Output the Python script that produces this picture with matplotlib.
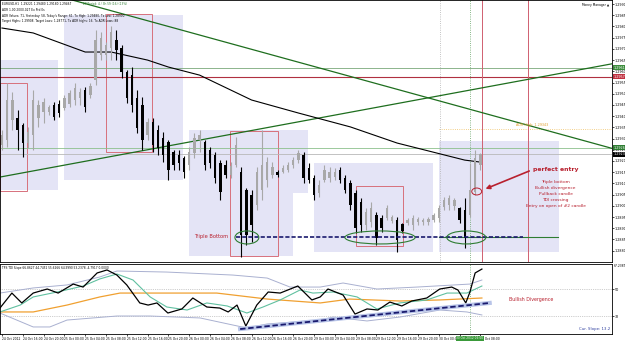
import matplotlib
matplotlib.use("Agg")
import matplotlib.pyplot as plt
import matplotlib.transforms as mtrans
from matplotlib.patches import Rectangle, Ellipse
import numpy as np

# EURUSD H1 bars (bar index 0 = 24 Oct 12:00)
opens = [1.29271, 1.29294, 1.29383, 1.29392, 1.29360, 1.29280, 1.29316, 1.29392, 1.29418, 1.29418,
         1.29450, 1.29454, 1.29436, 1.29454, 1.29472, 1.29481, 1.29517, 1.29494, 1.29561, 1.29673,
         1.29673, 1.29704, 1.29740, 1.29704, 1.29597, 1.29583, 1.29481, 1.29450, 1.29316, 1.29374,
         1.29338, 1.29303, 1.29285, 1.29240, 1.29227, 1.29213, 1.29182, 1.29236, 1.29294, 1.29285,
         1.29249, 1.29227, 1.29191, 1.29182, 1.29137, 1.29182, 1.29151, 1.29071, 1.29048, 1.29004,
         1.29071, 1.29115, 1.29137, 1.29151, 1.29151, 1.29160, 1.29182, 1.29204, 1.29227, 1.29169,
         1.29124, 1.29057, 1.29115, 1.29124, 1.29129, 1.29160, 1.29124, 1.29102, 1.29057, 1.29017,
         1.28914, 1.28928, 1.28959, 1.28946, 1.28946, 1.28932, 1.28937, 1.28919, 1.28923, 1.28914,
         1.28928, 1.28928, 1.28928, 1.28937, 1.28946, 1.28995, 1.29004, 1.28999, 1.28990, 1.28981,
         1.28959, 1.29062, 1.29182]
highs = [1.29338, 1.29548, 1.29508, 1.29427, 1.29369, 1.29352, 1.29517, 1.29472, 1.29481, 1.29450,
         1.29463, 1.29472, 1.29494, 1.29517, 1.29548, 1.29526, 1.29530, 1.29548, 1.29784, 1.29775,
         1.29731, 1.29802, 1.29784, 1.29717, 1.29606, 1.29619, 1.29517, 1.29485, 1.29392, 1.29392,
         1.29360, 1.29329, 1.29294, 1.29249, 1.29249, 1.29222, 1.29262, 1.29325, 1.29338, 1.29294,
         1.29262, 1.29240, 1.29204, 1.29204, 1.29195, 1.29307, 1.29173, 1.29080, 1.29071, 1.29173,
         1.29338, 1.29218, 1.29195, 1.29160, 1.29182, 1.29195, 1.29218, 1.29249, 1.29240, 1.29191,
         1.29137, 1.29115, 1.29182, 1.29173, 1.29169, 1.29173, 1.29137, 1.29115, 1.29071, 1.29035,
         1.28990, 1.29017, 1.28972, 1.28959, 1.29004, 1.28959, 1.28950, 1.28923, 1.28946, 1.28959,
         1.28950, 1.28946, 1.28950, 1.28968, 1.29004, 1.29039, 1.29048, 1.29035, 1.28995, 1.29035,
         1.29191, 1.29249, 1.29236]
lows = [1.29249, 1.29262, 1.29338, 1.29249, 1.29218, 1.29258, 1.29249, 1.29352, 1.29369, 1.29405,
        1.29383, 1.29396, 1.29427, 1.29441, 1.29450, 1.29450, 1.29418, 1.29481, 1.29539, 1.29650,
        1.29650, 1.29650, 1.29650, 1.29570, 1.29459, 1.29418, 1.29325, 1.29249, 1.29294, 1.29240,
        1.29227, 1.29195, 1.29115, 1.29160, 1.29160, 1.29124, 1.29160, 1.29213, 1.29240, 1.29160,
        1.29169, 1.29102, 1.29026, 1.29124, 1.29124, 1.29173, 1.28772, 1.28825, 1.28839, 1.28981,
        1.29026, 1.29084, 1.29124, 1.29129, 1.29146, 1.29151, 1.29169, 1.29191, 1.29102, 1.29102,
        1.29026, 1.29039, 1.29106, 1.29106, 1.29115, 1.29102, 1.29057, 1.28981, 1.28879, 1.28883,
        1.28892, 1.28906, 1.28825, 1.28883, 1.28937, 1.28923, 1.28794, 1.28879, 1.28914, 1.28892,
        1.28914, 1.28914, 1.28914, 1.28928, 1.28928, 1.28981, 1.28981, 1.28981, 1.28923, 1.28812,
        1.28950, 1.29048, 1.29160]
closes = [1.29316, 1.29472, 1.29472, 1.29338, 1.29280, 1.29329, 1.29472, 1.29450, 1.29463, 1.29441,
          1.29396, 1.29414, 1.29481, 1.29503, 1.29526, 1.29508, 1.29441, 1.29534, 1.29740, 1.29749,
          1.29717, 1.29775, 1.29695, 1.29597, 1.29481, 1.29450, 1.29347, 1.29294, 1.29374, 1.29271,
          1.29258, 1.29227, 1.29160, 1.29182, 1.29191, 1.29151, 1.29240, 1.29303, 1.29316, 1.29182,
          1.29191, 1.29124, 1.29062, 1.29137, 1.29178, 1.29271, 1.28870, 1.28870, 1.28914, 1.29151,
          1.29182, 1.29195, 1.29173, 1.29137, 1.29169, 1.29182, 1.29204, 1.29236, 1.29124, 1.29115,
          1.29048, 1.29093, 1.29160, 1.29151, 1.29151, 1.29115, 1.29071, 1.29004, 1.28901, 1.28914,
          1.28972, 1.28990, 1.28857, 1.28901, 1.28990, 1.28950, 1.28848, 1.28888, 1.28937, 1.28946,
          1.28941, 1.28937, 1.28941, 1.28959, 1.28990, 1.29026, 1.29035, 1.29026, 1.28937, 1.28857,
          1.29071, 1.29213, 1.29231]

# moving average (sampled points)
ma_x = [0, 6, 16, 21, 28, 32, 38, 48, 57, 67, 76, 89, 92]
ma_y = [1.29793, 1.29771, 1.29686, 1.29686, 1.29650, 1.29619, 1.29583, 1.29472, 1.29414,
        1.29352, 1.29280, 1.29204, 1.29195]

# TDI lines (sampled points)
rsi_x = [-0.4, 1.9, 3.8, 6, 8.7, 10.8, 13.7, 15.6, 18.3, 20.2, 22.1, 24, 26.5, 28.1, 29.8, 31.9,
         34.6, 36.7, 39.4, 41.9, 43.5, 45.2, 46.9, 49, 51.2, 53.5, 56.9, 59.6, 61.2, 62.7, 65.6,
         67.9, 70.2, 72.3, 74.6, 76.9, 78.8, 81.7, 84.2, 86.5, 87.7, 89.2, 90, 91, 92.3]
rsi_y = [37.3, 47.3, 40.7, 47.3, 50, 47.3, 53.3, 51.3, 60.7, 62.7, 59.3, 52.7, 40.7, 39.3, 40.7, 34,
         36.7, 44, 38, 37.3, 34.7, 39.3, 25.3, 39.3, 48, 47.3, 52, 42.7, 44.7, 50, 46,
         33.3, 36.7, 36, 41.3, 38.7, 42, 44, 50, 51.3, 49.3, 40.7, 48, 60.7, 63.3]
sig_x = [-0.4, 3.5, 6, 10.6, 15.6, 18.8, 22.1, 25.2, 28.5, 31.7, 35.6, 39.4, 43.3, 47.1, 50.2,
         53.5, 57.3, 59.8, 63.7, 68.3, 72.1, 76.5, 81.7, 85.6, 89.4, 92.3]
sig_y = [34.7, 39.3, 44.7, 48, 52, 56.7, 60, 56, 44.7, 38, 36, 40.7, 38.7, 34, 38,
         42.7, 49.3, 47.3, 48, 44.7, 36.7, 40.7, 42.7, 47.3, 47.3, 52]
base_x = [-0.4, 6, 12.5, 18.8, 22.7, 31.7, 41.3, 51, 61.2, 66.9, 76.5, 84.2, 92.3]
base_y = [34.7, 34.7, 39.3, 44.7, 47.3, 47.3, 47.3, 43.3, 40.7, 43.3, 42, 42.7, 44]
up_x = [-0.4, 6, 12.5, 18.8, 22.1, 31.7, 44.4, 51, 55.4, 61.2, 65.6, 72.1, 79.8, 90, 92.3]
up_y = [47.3, 50.7, 52.7, 58, 62, 61.3, 59.3, 57.3, 51.3, 51.3, 54, 50, 51.3, 53.3, 56]
lo_x = [-0.4, 6, 9.2, 12.5, 22.1, 28.5, 38.1, 44.4, 47.1, 51, 61.2, 63.7, 70.2, 76.5, 84.2, 89.4, 92.3]
lo_y = [34, 24.7, 24.7, 29.3, 32, 32, 30.7, 26, 24, 26.7, 29.3, 31.3, 28.7, 31.3, 36, 34.7, 32.7]

tick_idx = list(range(0, 93, 4))
tick_lbl = ["24 Oct 2012", "24 Oct 16:00", "24 Oct 20:00", "25 Oct 00:00", "25 Oct 04:00",
            "25 Oct 08:00", "25 Oct 12:00", "25 Oct 16:00", "25 Oct 20:00", "26 Oct 00:00",
            "26 Oct 04:00", "26 Oct 08:00", "26 Oct 12:00", "26 Oct 16:00", "26 Oct 20:00",
            "29 Oct 00:00", "29 Oct 04:00", "29 Oct 08:00", "29 Oct 12:00", "29 Oct 16:00",
            "29 Oct 20:00", "30 Oct 00:00", "30 Oct 04:00", "30 Oct 08:00"]

# shaded zones (x0, x1, y0, y1) and red boxes
zones = [(-0.4, 10.8, 1.29071, 1.29650), (11.9, 34.8, 1.29115, 1.29851),
         (36, 56, 1.28776, 1.29338), (36, 58.8, 1.29057, 1.29338),
         (60, 82.9, 1.28794, 1.29191), (84, 107.1, 1.28794, 1.29289)]
boxes = [(-0.4, 4.8, 1.29066, 1.29548), (20, 28.8, 1.29240, 1.29856),
         (43.8, 53.1, 1.28776, 1.29334), (68, 77.1, 1.28821, 1.29088)]

fig = plt.figure(figsize=(6.25, 3.41), dpi=100)
ax = fig.add_axes([0.0, 0.232, 0.979, 0.768])
ax2 = fig.add_axes([0.0, 0.0205, 0.979, 0.2053])

red = "#b8202e"
for x0, x1, y0, y1 in zones:
    ax.add_patch(Rectangle((x0, y0), x1 - x0, y1 - y0, facecolor="#e4e4f6", edgecolor="none", zorder=0))
for x0, x1, y0, y1 in boxes:
    ax.add_patch(Rectangle((x0, y0), x1 - x0, y1 - y0, facecolor="none", edgecolor="#d7707c", lw=0.7, zorder=2))

ax.axhline(1.29615, color="#7aa87a", lw=0.6)
ax.axhline(1.29575, color="#b03040", lw=0.8)
ax.axhline(1.29258, color="#8cc08c", lw=0.6)
ax.axhline(1.29231, color="#b8b8b8", lw=0.6)
ax.plot([84, 117.3], [1.29343, 1.29343], color="#f0c060", lw=0.6, ls=":")
ax.text(102, 1.29356, "ADR High: 1.29343", color="#e0a030", fontsize=2.4, ha="center")

ax.axvline(84.2, color="#b0b0b0", lw=0.6, ls=":")
ax.axvline(90, color="#60a060", lw=0.6, ls=":")
ax.axvline(92.3, color="#d06070", lw=0.7)
ax.axvline(101.2, color="#d06070", lw=0.7)

ax.axline((0, 1.29130), (110, 1.29602), color="#1e6e1e", lw=0.9)
ax.axline((16, 1.29902), (110, 1.29303), color="#1e6e1e", lw=0.9)
ax.plot(ma_x, ma_y, color="black", lw=0.8, zorder=3)

# candles
idx = np.arange(len(opens))
o = np.array(opens); c = np.array(closes)
cols = ["#a8a8a8" if cc >= oo else "black" for oo, cc in zip(o, c)]
ax.vlines(idx, lows, highs, colors=cols, lw=0.8, zorder=4)
body = np.maximum(np.abs(c - o), 0.00003)
ax.bar(idx, body, bottom=np.minimum(o, c), width=0.45, color=cols, zorder=4)

# support / triple bottom
ax.plot([84, 107], [1.28861, 1.28861], color="#2e7d32", lw=0.8, zorder=3)
ax.plot([45, 100.2], [1.28861, 1.28861], color="#1a1a6e", lw=1.2, ls=(0, (2.5, 1.2)), zorder=5)
for ex, ew in [(47.1, 4.6), (72.7, 13.5), (89.3, 7.5)]:
    ax.add_patch(Ellipse((ex, 1.28859), ew, 0.00058, fill=False, edgecolor="#2e7d32", lw=0.8, zorder=6))
ax.add_patch(Ellipse((91.3, 1.29064), 1.9, 0.00031, fill=False, edgecolor=red, lw=0.7, zorder=6))
ax.text(40.3, 1.28861, "Triple Bottom", color=red, fontsize=3.7, ha="center", va="center")

ax.annotate("", xy=(92.5, 1.29071), xytext=(101.9, 1.29160),
            arrowprops=dict(arrowstyle="-|>", color=red, lw=1.2, mutation_scale=6))
ax.text(106.5, 1.29162, "perfect entry", color=red, fontsize=4.4, fontweight="bold", ha="center", va="center")
notes = ["Triple bottom", "Bullish divergence", "Pullback candle", "TDI crossing", "Entry on open of #2 candle"]
for k, s in enumerate(notes):
    ax.text(106.5, 1.29106 - k * 0.000262, s, color=red, fontsize=3.2, ha="center", va="center")

ax.set_xlim(-0.385, 117.3)
ax.set_ylim(1.28750, 1.29918)
ax.yaxis.tick_right()
yt = np.arange(1.2880, 1.29901, 0.0005)
ax.set_yticks(yt)
ax.set_yticklabels([f"{v:.4f}" for v in yt])
ax.tick_params(axis="y", labelsize=2.4, length=1.5, pad=0.8, width=0.5)
ax.tick_params(axis="x", bottom=False, labelbottom=False)
for s in ax.spines.values():
    s.set_linewidth(0.6)

tr = mtrans.blended_transform_factory(ax.transAxes, ax.transData)
for val, bg, fg in [(1.29615, "#3c8c3c", "white"), (1.29575, "#c03040", "white"),
                    (1.29258, "#2e7d32", "white"), (1.29231, "black", "white")]:
    ax.text(1.003, val, f"{val:.4f}", transform=tr, fontsize=2.4, color=fg, va="center", ha="left",
            bbox=dict(boxstyle="square,pad=0.15", fc=bg, ec="none"), clip_on=False, zorder=10)

head = ["EURUSD,H1  1.29221 1.29480 1.29180 1.29467",
        "ADR 1.00 2000.027 Ex Prd 0s",
        "ADR Values: 71, Yesterday: 58, Today's Range: 61, Tx High: 1.29480, Tx Low: 1.28900",
        "Target Highs: 1.29908, Target Lows: 1.28771, Tx ADR highs: 16, Tx ADR Lows: 88"]
for k, s in enumerate(head):
    ax.text(0.004, 0.992 - k * 0.022, s, transform=ax.transAxes, fontsize=2.1, va="top")
ax.text(0.135, 0.992, "EP Period: 4 / 3h 59 (16) (13%)", transform=ax.transAxes, fontsize=2.1,
        va="top", color="#2e7d32")
ax.text(0.995, 0.988, "Money Manager \u25b2", transform=ax.transAxes, fontsize=2.2, va="top", ha="right")

# TDI panel
ax2.axhline(50, color="#a0a0a0", lw=0.5, ls=":")
ax2.axhline(32, color="#a0a0a0", lw=0.5, ls=":")
ax2.axvline(90, color="#60a060", lw=0.6, ls=":")
ax2.plot(up_x, up_y, color="#a9b0d0", lw=0.7)
ax2.plot(lo_x, lo_y, color="#a9b0d0", lw=0.7)
ax2.plot(base_x, base_y, color="#f0a030", lw=0.9)
ax2.plot(sig_x, sig_y, color="#60c0a0", lw=0.8)
ax2.plot(rsi_x, rsi_y, color="black", lw=0.9)
ax2.plot([45.8, 93.8], [23.3, 40.7], color="#b8c4e8", lw=3)
ax2.plot([45.8, 93.8], [23.3, 40.7], color="#1a1a6e", lw=1.3, ls=(0, (3, 1.5)))
ax2.text(101.7, 43.3, "Bullish Divergence", color=red, fontsize=3.4, ha="center", va="center")
ax2.text(116.9, 23.3, "Cur. Slope: 13.2", color="#3040a0", fontsize=2.8, ha="right", va="center")
ax2.text(0.004, 0.965, "TPS TDI Slope 66.8627 44.7452 55.6266 64.9990 53.2378 -4.7917 0.0000",
         transform=ax2.transAxes, fontsize=2.1, va="top")

ax2.set_xlim(-0.385, 117.3)
ax2.set_ylim(20.0, 66.67)
ax2.yaxis.tick_right()
ax2.set_yticks([32, 50])
ax2.set_yticklabels(["32", "50"])
ax2.text(1.003, 1.0, "67.2387", transform=ax2.transAxes, fontsize=2.2, va="top")
ax2.tick_params(axis="y", labelsize=2.4, length=1.5, pad=0.8, width=0.5)
ax2.set_xticks(tick_idx)
ax2.set_xticklabels(tick_lbl, ha="left")
ax2.tick_params(axis="x", labelsize=2.2, length=1.5, pad=0.8, width=0.5)
trx = mtrans.blended_transform_factory(ax2.transData, ax2.transAxes)
ax2.text(90, -0.03, "30 Oct 2012 06:00", transform=trx, fontsize=2.1, color="white", ha="center",
         va="top", bbox=dict(boxstyle="square,pad=0.2", fc="#3a9a3a", ec="none"), clip_on=False, zorder=10)
for s in ax2.spines.values():
    s.set_linewidth(0.6)

fig.savefig("out.png", dpi=100)
